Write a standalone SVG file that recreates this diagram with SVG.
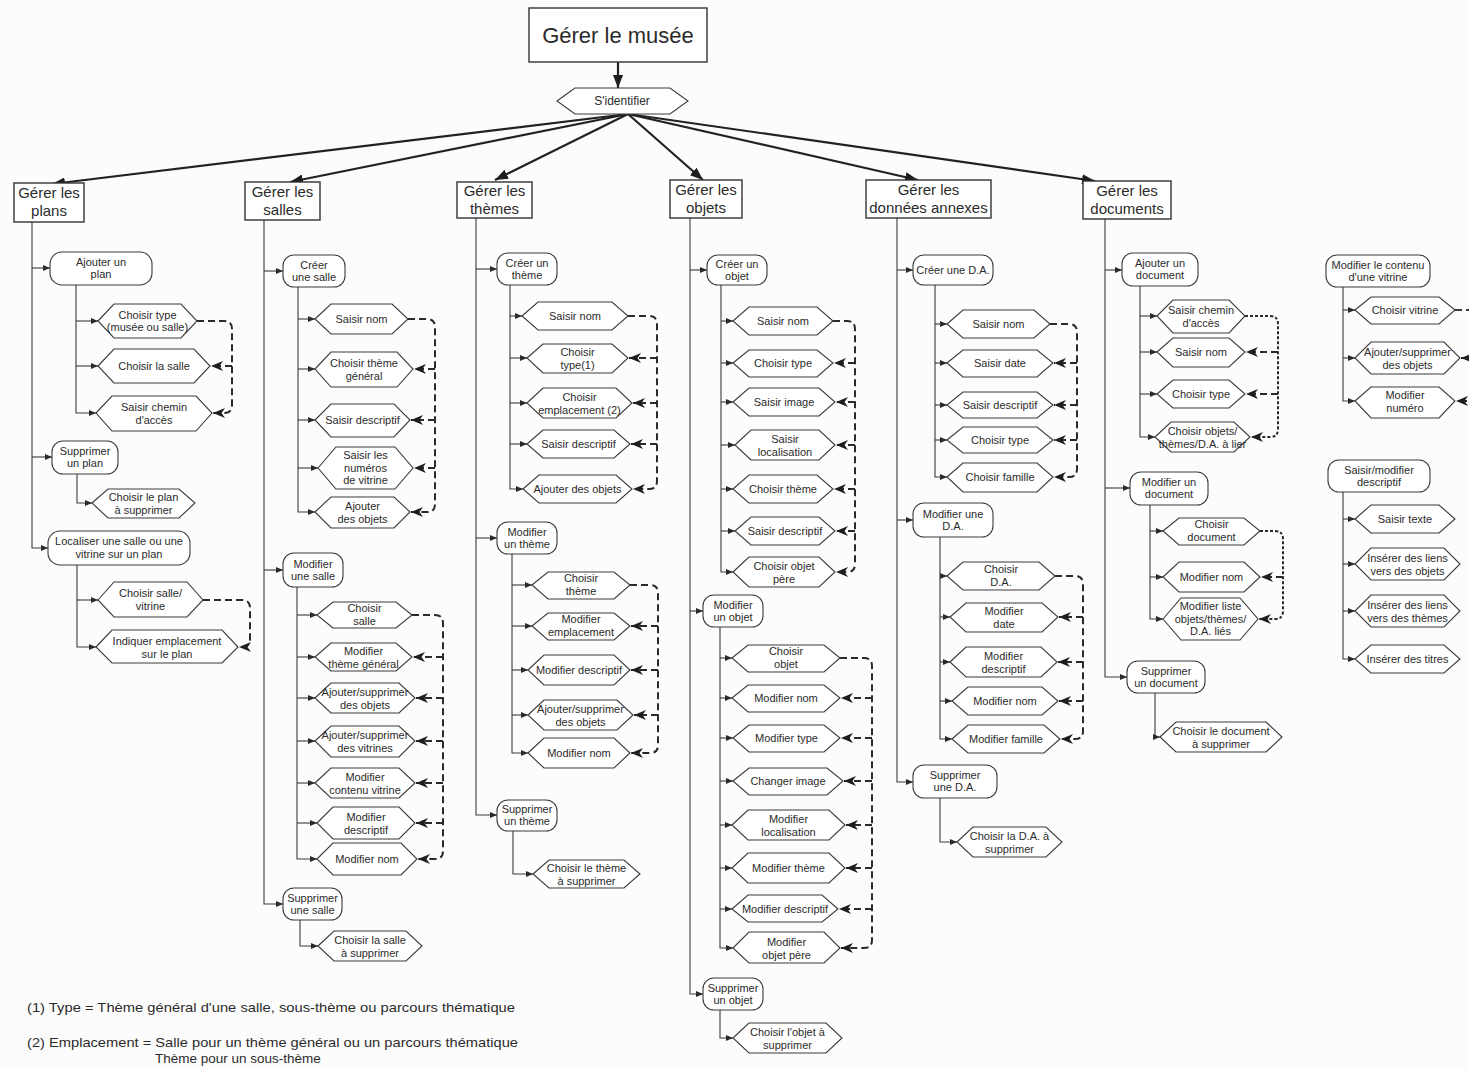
<svg xmlns="http://www.w3.org/2000/svg" width="1469" height="1070" viewBox="0 0 1469 1070">
<style>
  .bg{fill:#fcfcfc}
  .hdr{fill:#fff;stroke:#333;stroke-width:1.4}
  .step{fill:#fff;stroke:#3a3a3a;stroke-width:1.1}
  .act{fill:#fff;stroke:#3a3a3a;stroke-width:1.1}
  text{font-family:"Liberation Sans",Arial,sans-serif;fill:#2b2b2b;text-anchor:middle}
  .t{font-size:11px}
  .h{font-size:15px}
  .top{font-size:22px}
  .note{font-size:13.5px;text-anchor:start}
  .tree{fill:none;stroke:#3a3a3a;stroke-width:1.1;marker-end:url(#tip)}
  .line{fill:none;stroke:#3a3a3a;stroke-width:1.1}
  .fan{fill:none;stroke:#222;stroke-width:2.2;marker-end:url(#big)}
  .seq{fill:none;stroke:#2a2a2a;stroke-width:2;stroke-dasharray:7 4;marker-end:url(#seqtip)}
</style>
<defs>
  <marker id="tip" markerUnits="userSpaceOnUse" markerWidth="7" markerHeight="6" refX="7" refY="3" orient="auto">
    <path d="M0,0 L7,3 L0,6 z" fill="#2a2a2a"/>
  </marker>
  <marker id="big" markerUnits="userSpaceOnUse" markerWidth="13" markerHeight="10" refX="13" refY="5" orient="auto">
    <path d="M0,0 L13,5 L0,10 z" fill="#1e1e1e"/>
  </marker>
  <marker id="seqtip" markerUnits="userSpaceOnUse" markerWidth="12" markerHeight="10" refX="12" refY="5" orient="auto">
    <path d="M0,0 L12,5 L0,10 L3.5,5 z" fill="#1e1e1e"/>
  </marker>
</defs>
<rect class="bg" x="0" y="0" width="1469" height="1070"/>

<!-- all connectors -->
<g id="connectors">
  <path class="fan" d="M618,62 V88"/>
  <path class="fan" d="M628,114 L52,184"/>
  <path class="fan" d="M628,114 L290,182"/>
  <path class="fan" d="M628,114 L495,180"/>
  <path class="fan" d="M628,114 L703,180"/>
  <path class="fan" d="M628,114 L918,180"/>
  <path class="fan" d="M628,114 L1095,181"/>

  <!-- plans -->
  <path class="tree" d="M32,222 V548 H48"/>
  <path class="tree" d="M32,268 H50"/>
  <path class="tree" d="M32,457 H52"/>
  <path class="tree" d="M76,285 V413 H96"/>
  <path class="tree" d="M76,321 H98"/>
  <path class="tree" d="M76,366 H98"/>
  <path class="tree" d="M77,474 V503 H92"/>
  <path class="tree" d="M77,565 V647 H96"/>
  <path class="tree" d="M77,600 H98"/>
  <path class="seq" d="M197,321 H224 Q232,321 232,329 V405 Q232,413 224,413 H213"/>
  <path class="seq" d="M232,366 H211"/>
  <path class="seq" d="M203,600 H242 Q250,600 250,608 V639 Q250,647 242,647 H239"/>

  <!-- salles -->
  <path class="tree" d="M264,220 V904 H283"/>
  <path class="tree" d="M264,271 H283"/>
  <path class="tree" d="M264,570 H283"/>
  <path class="tree" d="M298,287 V512 H315"/>
  <path class="tree" d="M298,319 H315"/>
  <path class="tree" d="M298,369 H315"/>
  <path class="tree" d="M298,420 H315"/>
  <path class="tree" d="M298,468 H318"/>
  <path class="tree" d="M297,587 V859 H317"/>
  <path class="tree" d="M297,615 H317"/>
  <path class="tree" d="M297,657 H315"/>
  <path class="tree" d="M297,698 H315"/>
  <path class="tree" d="M297,741 H315"/>
  <path class="tree" d="M297,783 H315"/>
  <path class="tree" d="M297,823 H317"/>
  <path class="tree" d="M300,920 V946 H318"/>
  <path class="seq" d="M408,319 H427 Q435,319 435,327 V504 Q435,512 427,512 H411"/>
  <path class="seq" d="M435,369 H414"/>
  <path class="seq" d="M435,420 H411"/>
  <path class="seq" d="M435,468 H414"/>
  <path class="seq" d="M412,615 H435 Q443,615 443,623 V851 Q443,859 435,859 H418"/>
  <path class="seq" d="M443,657 H413"/>
  <path class="seq" d="M443,698 H416"/>
  <path class="seq" d="M443,741 H416"/>
  <path class="seq" d="M443,783 H416"/>
  <path class="seq" d="M443,823 H416"/>

  <!-- thèmes -->
  <path class="tree" d="M476,218 V815 H497"/>
  <path class="tree" d="M476,269 H497"/>
  <path class="tree" d="M476,538 H497"/>
  <path class="tree" d="M510,285 V489 H523"/>
  <path class="tree" d="M510,316 H522"/>
  <path class="tree" d="M510,358 H527"/>
  <path class="tree" d="M510,403 H527"/>
  <path class="tree" d="M510,444 H527"/>
  <path class="tree" d="M512,554 V753 H528"/>
  <path class="tree" d="M512,585 H532"/>
  <path class="tree" d="M512,626 H532"/>
  <path class="tree" d="M512,670 H528"/>
  <path class="tree" d="M512,715 H528"/>
  <path class="tree" d="M513,831 V874 H533"/>
  <path class="seq" d="M628,316 H649 Q657,316 657,324 V481 Q657,489 649,489 H633"/>
  <path class="seq" d="M657,358 H629"/>
  <path class="seq" d="M657,403 H633"/>
  <path class="seq" d="M657,444 H631"/>
  <path class="seq" d="M630,585 H650 Q658,585 658,593 V745 Q658,753 650,753 H631"/>
  <path class="seq" d="M658,626 H631"/>
  <path class="seq" d="M658,670 H631"/>
  <path class="seq" d="M658,715 H634"/>

  <!-- objets -->
  <path class="tree" d="M690,218 V994 H703"/>
  <path class="tree" d="M690,270 H707"/>
  <path class="tree" d="M690,611 H703"/>
  <path class="tree" d="M721,285 V572 H733"/>
  <path class="tree" d="M721,321 H733"/>
  <path class="tree" d="M721,363 H733"/>
  <path class="tree" d="M721,402 H733"/>
  <path class="tree" d="M721,445 H735"/>
  <path class="tree" d="M721,489 H733"/>
  <path class="tree" d="M721,531 H735"/>
  <path class="tree" d="M720,627 V948 H733"/>
  <path class="tree" d="M720,658 H732"/>
  <path class="tree" d="M720,698 H732"/>
  <path class="tree" d="M720,738 H733"/>
  <path class="tree" d="M720,781 H733"/>
  <path class="tree" d="M720,825 H732"/>
  <path class="tree" d="M720,868 H732"/>
  <path class="tree" d="M720,909 H732"/>
  <path class="tree" d="M720,1010 V1038 H733"/>
  <path class="seq" d="M833,321 H847 Q855,321 855,329 V564 Q855,572 847,572 H836"/>
  <path class="seq" d="M855,363 H834"/>
  <path class="seq" d="M855,402 H836"/>
  <path class="seq" d="M855,445 H836"/>
  <path class="seq" d="M855,489 H834"/>
  <path class="seq" d="M855,531 H836"/>
  <path class="seq" d="M840,658 H864 Q872,658 872,666 V940 Q872,948 864,948 H841"/>
  <path class="seq" d="M872,698 H841"/>
  <path class="seq" d="M872,738 H841"/>
  <path class="seq" d="M872,781 H844"/>
  <path class="seq" d="M872,825 H846"/>
  <path class="seq" d="M872,868 H846"/>
  <path class="seq" d="M872,909 H839"/>

  <!-- données annexes -->
  <path class="tree" d="M897,218 V782 H913"/>
  <path class="tree" d="M897,270 H913"/>
  <path class="tree" d="M897,520 H913"/>
  <path class="tree" d="M935,285 V477 H947"/>
  <path class="tree" d="M935,324 H947"/>
  <path class="tree" d="M935,363 H947"/>
  <path class="tree" d="M935,405 H947"/>
  <path class="tree" d="M935,440 H947"/>
  <path class="tree" d="M940,537 V739 H952"/>
  <path class="tree" d="M940,576 H947"/>
  <path class="tree" d="M940,617 H950"/>
  <path class="tree" d="M940,662 H950"/>
  <path class="tree" d="M940,701 H952"/>
  <path class="tree" d="M940,798 V842 H957"/>
  <path class="seq" d="M1050,324 H1069 Q1077,324 1077,332 V469 Q1077,477 1069,477 H1054"/>
  <path class="seq" d="M1077,363 H1054"/>
  <path class="seq" d="M1077,405 H1054"/>
  <path class="seq" d="M1077,440 H1054"/>
  <path class="seq" d="M1055,576 H1075 Q1083,576 1083,584 V731 Q1083,739 1075,739 H1061"/>
  <path class="seq" d="M1083,617 H1059"/>
  <path class="seq" d="M1083,662 H1058"/>
  <path class="seq" d="M1083,701 H1059"/>

  <!-- documents -->
  <path class="tree" d="M1105,219 V677 H1127"/>
  <path class="tree" d="M1105,270 H1122"/>
  <path class="tree" d="M1105,488 H1130"/>
  <path class="tree" d="M1140,286 V437 H1155"/>
  <path class="tree" d="M1140,316 H1157"/>
  <path class="tree" d="M1140,352 H1157"/>
  <path class="tree" d="M1140,394 H1157"/>
  <path class="tree" d="M1150,505 V619 H1163"/>
  <path class="tree" d="M1150,531 H1163"/>
  <path class="tree" d="M1150,577 H1163"/>
  <path class="tree" d="M1155,693 V737 H1160"/>
  <path class="seq" d="M1245,316 H1270 Q1278,316 1278,324 V429 Q1278,437 1270,437 H1251" style="stroke-dasharray:3 2"/>
  <path class="seq" d="M1278,352 H1246"/>
  <path class="seq" d="M1278,394 H1246"/>
  <path class="seq" d="M1260,531 H1275 Q1283,531 1283,539 V611 Q1283,619 1275,619 H1259" style="stroke-dasharray:3 2"/>
  <path class="seq" d="M1283,577 H1261"/>

  <!-- contenu d'une vitrine / descriptif -->
  <path class="tree" d="M1343,287 V401 H1355"/>
  <path class="tree" d="M1343,310 H1355"/>
  <path class="tree" d="M1343,358 H1355"/>
  <path class="tree" d="M1343,492 V659 H1355"/>
  <path class="tree" d="M1343,519 H1355"/>
  <path class="tree" d="M1343,564 H1355"/>
  <path class="tree" d="M1343,611 H1355"/>
  <path class="line" d="M1455,310 H1469" style="stroke-width:2;stroke-dasharray:7 4"/>
  <path class="seq" d="M1478,358 H1461"/>
  <path class="seq" d="M1478,401 H1456"/>
</g>

<!-- root -->
<g id="gerer-musee">
  <rect class="hdr" x="529" y="8" width="178" height="54"/>
  <text class="top" x="618" y="43">Gérer le musée</text>
</g>
<g id="s-identifier">
  <polygon class="step" points="557,101 575,88 670,88 688,101 670,114 575,114"/>
  <text class="t" x="622" y="105" style="font-size:12px">S'identifier</text>
</g>

<!-- Gérer les plans -->
<g id="gerer-plans">
  <rect class="hdr" x="14" y="183" width="70" height="39"/>
  <text class="h" x="49" y="198">Gérer les</text>
  <text class="h" x="49" y="216">plans</text>
</g>
<g id="ajouter-plan">
  <rect class="act" x="50" y="252" width="102" height="33" rx="12"/>
  <text class="t" x="101" y="266">Ajouter un</text>
  <text class="t" x="101" y="278">plan</text>
</g>
<g id="plan-choisir-type">
  <polygon class="step" points="98,321 114,304 181,304 197,321 181,338 114,338"/>
  <text class="t" x="147.5" y="319">Choisir type</text>
  <text class="t" x="147.5" y="331">(musée ou salle)</text>
</g>
<g id="plan-choisir-salle">
  <polygon class="step" points="98,366 114,349 194,349 210,366 194,383 114,383"/>
  <text class="t" x="154" y="370">Choisir la salle</text>
</g>
<g id="plan-saisir-chemin">
  <polygon class="step" points="96,413 112,396 196,396 212,413 196,431 112,431"/>
  <text class="t" x="154" y="411">Saisir chemin</text>
  <text class="t" x="154" y="424">d'accès</text>
</g>
<g id="supprimer-plan">
  <rect class="act" x="52" y="441" width="66" height="33" rx="11"/>
  <text class="t" x="85" y="455">Supprimer</text>
  <text class="t" x="85" y="467">un plan</text>
</g>
<g id="plan-choisir-supprimer">
  <polygon class="step" points="92,503 108,489 179,489 195,503 179,518 108,518"/>
  <text class="t" x="143.5" y="501">Choisir le plan</text>
  <text class="t" x="143.5" y="514">à supprimer</text>
</g>
<g id="localiser">
  <rect class="act" x="48" y="531" width="142" height="34" rx="12"/>
  <text class="t" x="119" y="545">Localiser une salle ou une</text>
  <text class="t" x="119" y="558">vitrine sur un plan</text>
</g>
<g id="plan-choisir-salle-vitrine">
  <polygon class="step" points="98,600 114,582 187,582 203,600 187,617 114,617"/>
  <text class="t" x="150.5" y="597">Choisir salle/</text>
  <text class="t" x="150.5" y="610">vitrine</text>
</g>
<g id="plan-indiquer">
  <polygon class="step" points="96,647 112,630 222,630 238,647 222,663 112,663"/>
  <text class="t" x="167" y="645">Indiquer emplacement</text>
  <text class="t" x="167" y="658">sur le plan</text>
</g>

<!-- Gérer les salles -->
<g id="gerer-salles">
  <rect class="hdr" x="245" y="182" width="75" height="38"/>
  <text class="h" x="282.5" y="197">Gérer les</text>
  <text class="h" x="282.5" y="215">salles</text>
</g>
<g id="creer-salle">
  <rect class="act" x="283" y="255" width="62" height="32" rx="11"/>
  <text class="t" x="314" y="269">Créer</text>
  <text class="t" x="314" y="281">une salle</text>
</g>
<g id="salle-saisir-nom">
  <polygon class="step" points="315,319 331,304 392,304 408,319 392,334 331,334"/>
  <text class="t" x="361.5" y="323">Saisir nom</text>
</g>
<g id="salle-choisir-theme">
  <polygon class="step" points="315,369 331,352 397,352 413,369 397,387 331,387"/>
  <text class="t" x="364" y="367">Choisir thème</text>
  <text class="t" x="364" y="380">général</text>
</g>
<g id="salle-saisir-descriptif">
  <polygon class="step" points="315,420 331,404 394,404 410,420 394,437 331,437"/>
  <text class="t" x="362.5" y="424">Saisir descriptif</text>
</g>
<g id="salle-saisir-numeros">
  <polygon class="step" points="318,468 336,447 395,447 413,468 395,489 336,489"/>
  <text class="t" x="365.5" y="459">Saisir les</text>
  <text class="t" x="365.5" y="471.5">numéros</text>
  <text class="t" x="365.5" y="484">de vitrine</text>
</g>
<g id="salle-ajouter-objets">
  <polygon class="step" points="315,512 331,497 394,497 410,512 394,528 331,528"/>
  <text class="t" x="362.5" y="510">Ajouter</text>
  <text class="t" x="362.5" y="523">des objets</text>
</g>
<g id="modifier-salle">
  <rect class="act" x="283" y="553" width="60" height="34" rx="11"/>
  <text class="t" x="313" y="568">Modifier</text>
  <text class="t" x="313" y="580">une salle</text>
</g>
<g id="salle-choisir">
  <polygon class="step" points="317,615 333,602 396,602 412,615 396,628 333,628"/>
  <text class="t" x="364.5" y="612">Choisir</text>
  <text class="t" x="364.5" y="625">salle</text>
</g>
<g id="salle-modifier-theme">
  <polygon class="step" points="315,657 331,643 396,643 412,657 396,671 331,671"/>
  <text class="t" x="363.5" y="655">Modifier</text>
  <text class="t" x="363.5" y="668">thème général</text>
</g>
<g id="salle-ajsup-objets">
  <polygon class="step" points="315,698 331,683 399,683 415,698 399,713 331,713"/>
  <text class="t" x="365" y="696">Ajouter/supprimer</text>
  <text class="t" x="365" y="709">des objets</text>
</g>
<g id="salle-ajsup-vitrines">
  <polygon class="step" points="315,741 331,726 399,726 415,741 399,757 331,757"/>
  <text class="t" x="365" y="739">Ajouter/supprimer</text>
  <text class="t" x="365" y="752">des vitrines</text>
</g>
<g id="salle-modifier-contenu">
  <polygon class="step" points="315,783 331,768 399,768 415,783 399,798 331,798"/>
  <text class="t" x="365" y="781">Modifier</text>
  <text class="t" x="365" y="794">contenu vitrine</text>
</g>
<g id="salle-modifier-descriptif">
  <polygon class="step" points="317,823 333,807 399,807 415,823 399,839 333,839"/>
  <text class="t" x="366" y="821">Modifier</text>
  <text class="t" x="366" y="834">descriptif</text>
</g>
<g id="salle-modifier-nom">
  <polygon class="step" points="317,859 333,843 401,843 417,859 401,875 333,875"/>
  <text class="t" x="367" y="863">Modifier nom</text>
</g>
<g id="supprimer-salle">
  <rect class="act" x="283" y="888" width="59" height="32" rx="11"/>
  <text class="t" x="312.5" y="902">Supprimer</text>
  <text class="t" x="312.5" y="914">une salle</text>
</g>
<g id="salle-choisir-supprimer">
  <polygon class="step" points="318,946 334,931 406,931 422,946 406,961 334,961"/>
  <text class="t" x="370" y="944">Choisir la salle</text>
  <text class="t" x="370" y="957">à supprimer</text>
</g>

<!-- Gérer les thèmes -->
<g id="gerer-themes">
  <rect class="hdr" x="457" y="182" width="75" height="36"/>
  <text class="h" x="494.5" y="196">Gérer les</text>
  <text class="h" x="494.5" y="214">thèmes</text>
</g>
<g id="creer-theme">
  <rect class="act" x="497" y="253" width="60" height="32" rx="11"/>
  <text class="t" x="527" y="267">Créer un</text>
  <text class="t" x="527" y="279">thème</text>
</g>
<g id="theme-saisir-nom">
  <polygon class="step" points="522,316 538,302 612,302 628,316 612,330 538,330"/>
  <text class="t" x="575" y="320">Saisir nom</text>
</g>
<g id="theme-choisir-type">
  <polygon class="step" points="527,358 543,344 612,344 628,358 612,373 543,373"/>
  <text class="t" x="577.5" y="356">Choisir</text>
  <text class="t" x="577.5" y="369">type(1)</text>
</g>
<g id="theme-choisir-emplacement">
  <polygon class="step" points="527,403 543,388 616,388 632,403 616,418 543,418"/>
  <text class="t" x="579.5" y="401">Choisir</text>
  <text class="t" x="579.5" y="414">emplacement (2)</text>
</g>
<g id="theme-saisir-descriptif">
  <polygon class="step" points="527,444 543,430 614,430 630,444 614,458 543,458"/>
  <text class="t" x="578.5" y="448">Saisir descriptif</text>
</g>
<g id="theme-ajouter-objets">
  <polygon class="step" points="523,489 539,475 616,475 632,489 616,503 539,503"/>
  <text class="t" x="577.5" y="493">Ajouter des objets</text>
</g>
<g id="modifier-theme">
  <rect class="act" x="497" y="522" width="60" height="32" rx="11"/>
  <text class="t" x="527" y="536">Modifier</text>
  <text class="t" x="527" y="548">un thème</text>
</g>
<g id="theme-choisir">
  <polygon class="step" points="532,585 548,572 614,572 630,585 614,599 548,599"/>
  <text class="t" x="581" y="582">Choisir</text>
  <text class="t" x="581" y="595">thème</text>
</g>
<g id="theme-modifier-emplacement">
  <polygon class="step" points="532,626 548,613 614,613 630,626 614,640 548,640"/>
  <text class="t" x="581" y="623">Modifier</text>
  <text class="t" x="581" y="636">emplacement</text>
</g>
<g id="theme-modifier-descriptif">
  <polygon class="step" points="528,670 544,655 614,655 630,670 614,685 544,685"/>
  <text class="t" x="579" y="674">Modifier descriptif</text>
</g>
<g id="theme-ajsup-objets">
  <polygon class="step" points="528,715 544,700 617,700 633,715 617,730 544,730"/>
  <text class="t" x="580.5" y="713">Ajouter/supprimer</text>
  <text class="t" x="580.5" y="726">des objets</text>
</g>
<g id="theme-modifier-nom">
  <polygon class="step" points="528,753 544,738 614,738 630,753 614,768 544,768"/>
  <text class="t" x="579" y="757">Modifier nom</text>
</g>
<g id="supprimer-theme">
  <rect class="act" x="497" y="800" width="60" height="31" rx="11"/>
  <text class="t" x="527" y="813">Supprimer</text>
  <text class="t" x="527" y="825">un thème</text>
</g>
<g id="theme-choisir-supprimer">
  <polygon class="step" points="533,874 549,860 624,860 640,874 624,888 549,888"/>
  <text class="t" x="586.5" y="872">Choisir le thème</text>
  <text class="t" x="586.5" y="885">à supprimer</text>
</g>

<!-- Gérer les objets -->
<g id="gerer-objets">
  <rect class="hdr" x="670" y="180" width="72" height="38"/>
  <text class="h" x="706" y="195">Gérer les</text>
  <text class="h" x="706" y="213">objets</text>
</g>
<g id="creer-objet">
  <rect class="act" x="707" y="255" width="60" height="30" rx="11"/>
  <text class="t" x="737" y="268">Créer un</text>
  <text class="t" x="737" y="280">objet</text>
</g>
<g id="objet-saisir-nom">
  <polygon class="step" points="733,321 749,307 817,307 833,321 817,335 749,335"/>
  <text class="t" x="783" y="325">Saisir nom</text>
</g>
<g id="objet-choisir-type">
  <polygon class="step" points="733,363 749,350 817,350 833,363 817,377 749,377"/>
  <text class="t" x="783" y="367">Choisir type</text>
</g>
<g id="objet-saisir-image">
  <polygon class="step" points="733,402 749,388 819,388 835,402 819,416 749,416"/>
  <text class="t" x="784" y="406">Saisir image</text>
</g>
<g id="objet-saisir-localisation">
  <polygon class="step" points="735,445 751,430 819,430 835,445 819,460 751,460"/>
  <text class="t" x="785" y="443">Saisir</text>
  <text class="t" x="785" y="456">localisation</text>
</g>
<g id="objet-choisir-theme">
  <polygon class="step" points="733,489 749,475 817,475 833,489 817,503 749,503"/>
  <text class="t" x="783" y="493">Choisir thème</text>
</g>
<g id="objet-saisir-descriptif">
  <polygon class="step" points="735,531 751,517 819,517 835,531 819,545 751,545"/>
  <text class="t" x="785" y="535">Saisir descriptif</text>
</g>
<g id="objet-choisir-pere">
  <polygon class="step" points="733,572 749,557 819,557 835,572 819,587 749,587"/>
  <text class="t" x="784" y="570">Choisir objet</text>
  <text class="t" x="784" y="583">père</text>
</g>
<g id="modifier-objet">
  <rect class="act" x="703" y="595" width="60" height="32" rx="11"/>
  <text class="t" x="733" y="609">Modifier</text>
  <text class="t" x="733" y="621">un objet</text>
</g>
<g id="objet-choisir">
  <polygon class="step" points="732,658 748,645 824,645 840,658 824,672 748,672"/>
  <text class="t" x="786" y="655">Choisir</text>
  <text class="t" x="786" y="668">objet</text>
</g>
<g id="objet-modifier-nom">
  <polygon class="step" points="732,698 748,685 824,685 840,698 824,712 748,712"/>
  <text class="t" x="786" y="702">Modifier nom</text>
</g>
<g id="objet-modifier-type">
  <polygon class="step" points="733,738 749,725 824,725 840,738 824,752 749,752"/>
  <text class="t" x="786.5" y="742">Modifier type</text>
</g>
<g id="objet-changer-image">
  <polygon class="step" points="733,781 749,768 827,768 843,781 827,795 749,795"/>
  <text class="t" x="788" y="785">Changer image</text>
</g>
<g id="objet-modifier-localisation">
  <polygon class="step" points="732,825 748,810 829,810 845,825 829,840 748,840"/>
  <text class="t" x="788.5" y="823">Modifier</text>
  <text class="t" x="788.5" y="836">localisation</text>
</g>
<g id="objet-modifier-theme">
  <polygon class="step" points="732,868 748,853 829,853 845,868 829,883 748,883"/>
  <text class="t" x="788.5" y="872">Modifier thème</text>
</g>
<g id="objet-modifier-descriptif">
  <polygon class="step" points="732,909 748,895 822,895 838,909 822,922 748,922"/>
  <text class="t" x="785" y="913">Modifier descriptif</text>
</g>
<g id="objet-modifier-pere">
  <polygon class="step" points="733,948 749,932 824,932 840,948 824,963 749,963"/>
  <text class="t" x="786.5" y="946">Modifier</text>
  <text class="t" x="786.5" y="959">objet père</text>
</g>
<g id="supprimer-objet">
  <rect class="act" x="703" y="978" width="60" height="32" rx="11"/>
  <text class="t" x="733" y="992">Supprimer</text>
  <text class="t" x="733" y="1004">un objet</text>
</g>
<g id="objet-choisir-supprimer">
  <polygon class="step" points="733,1038 749,1023 826,1023 842,1038 826,1053 749,1053"/>
  <text class="t" x="787.5" y="1036">Choisir l'objet à</text>
  <text class="t" x="787.5" y="1049">supprimer</text>
</g>

<!-- Gérer les données annexes -->
<g id="gerer-da">
  <rect class="hdr" x="866" y="180" width="125" height="38"/>
  <text class="h" x="928.5" y="195">Gérer les</text>
  <text class="h" x="928.5" y="213">données annexes</text>
</g>
<g id="creer-da">
  <rect class="act" x="913" y="255" width="80" height="30" rx="11"/>
  <text class="t" x="953" y="274">Créer une D.A.</text>
</g>
<g id="da-saisir-nom">
  <polygon class="step" points="947,324 963,310 1034,310 1050,324 1034,338 963,338"/>
  <text class="t" x="998.5" y="328">Saisir nom</text>
</g>
<g id="da-saisir-date">
  <polygon class="step" points="947,363 963,350 1037,350 1053,363 1037,377 963,377"/>
  <text class="t" x="1000" y="367">Saisir date</text>
</g>
<g id="da-saisir-descriptif">
  <polygon class="step" points="947,405 963,392 1037,392 1053,405 1037,418 963,418"/>
  <text class="t" x="1000" y="409">Saisir descriptif</text>
</g>
<g id="da-choisir-type">
  <polygon class="step" points="947,440 963,427 1037,427 1053,440 1037,453 963,453"/>
  <text class="t" x="1000" y="444">Choisir type</text>
</g>
<g id="da-choisir-famille">
  <polygon class="step" points="947,477 963,463 1037,463 1053,477 1037,492 963,492"/>
  <text class="t" x="1000" y="481">Choisir famille</text>
</g>
<g id="modifier-da">
  <rect class="act" x="913" y="503" width="80" height="34" rx="11"/>
  <text class="t" x="953" y="518">Modifier une</text>
  <text class="t" x="953" y="530">D.A.</text>
</g>
<g id="da-choisir">
  <polygon class="step" points="947,576 963,562 1039,562 1055,576 1039,590 963,590"/>
  <text class="t" x="1001" y="573">Choisir</text>
  <text class="t" x="1001" y="586">D.A.</text>
</g>
<g id="da-modifier-date">
  <polygon class="step" points="950,617 966,603 1042,603 1058,617 1042,632 966,632"/>
  <text class="t" x="1004" y="615">Modifier</text>
  <text class="t" x="1004" y="628">date</text>
</g>
<g id="da-modifier-descriptif">
  <polygon class="step" points="950,662 966,647 1041,647 1057,662 1041,677 966,677"/>
  <text class="t" x="1003.5" y="660">Modifier</text>
  <text class="t" x="1003.5" y="673">descriptif</text>
</g>
<g id="da-modifier-nom">
  <polygon class="step" points="952,701 968,687 1042,687 1058,701 1042,715 968,715"/>
  <text class="t" x="1005" y="705">Modifier nom</text>
</g>
<g id="da-modifier-famille">
  <polygon class="step" points="952,739 968,725 1044,725 1060,739 1044,753 968,753"/>
  <text class="t" x="1006" y="743">Modifier famille</text>
</g>
<g id="supprimer-da">
  <rect class="act" x="913" y="765" width="84" height="33" rx="11"/>
  <text class="t" x="955" y="779">Supprimer</text>
  <text class="t" x="955" y="791">une D.A.</text>
</g>
<g id="da-choisir-supprimer">
  <polygon class="step" points="957,842 973,827 1046,827 1062,842 1046,857 973,857"/>
  <text class="t" x="1009.5" y="840">Choisir la D.A. à</text>
  <text class="t" x="1009.5" y="853">supprimer</text>
</g>

<!-- Gérer les documents -->
<g id="gerer-documents">
  <rect class="hdr" x="1083" y="181" width="88" height="38"/>
  <text class="h" x="1127" y="196">Gérer les</text>
  <text class="h" x="1127" y="214">documents</text>
</g>
<g id="ajouter-document">
  <rect class="act" x="1122" y="253" width="76" height="33" rx="11"/>
  <text class="t" x="1160" y="267">Ajouter un</text>
  <text class="t" x="1160" y="279">document</text>
</g>
<g id="doc-saisir-chemin">
  <polygon class="step" points="1157,316 1173,300 1229,300 1245,316 1229,333 1173,333"/>
  <text class="t" x="1201" y="314">Saisir chemin</text>
  <text class="t" x="1201" y="327">d'accès</text>
</g>
<g id="doc-saisir-nom">
  <polygon class="step" points="1157,352 1173,338 1229,338 1245,352 1229,367 1173,367"/>
  <text class="t" x="1201" y="356">Saisir nom</text>
</g>
<g id="doc-choisir-type">
  <polygon class="step" points="1157,394 1173,380 1229,380 1245,394 1229,408 1173,408"/>
  <text class="t" x="1201" y="398">Choisir type</text>
</g>
<g id="doc-choisir-liens">
  <polygon class="step" points="1155,437 1171,422 1234,422 1250,437 1234,452 1171,452"/>
  <text class="t" x="1202.5" y="435">Choisir objets/</text>
  <text class="t" x="1202.5" y="448">thèmes/D.A. à lier</text>
</g>
<g id="modifier-document">
  <rect class="act" x="1130" y="472" width="78" height="33" rx="11"/>
  <text class="t" x="1169" y="486">Modifier un</text>
  <text class="t" x="1169" y="498">document</text>
</g>
<g id="doc-choisir">
  <polygon class="step" points="1163,531 1179,518 1244,518 1260,531 1244,545 1179,545"/>
  <text class="t" x="1211.5" y="528">Choisir</text>
  <text class="t" x="1211.5" y="541">document</text>
</g>
<g id="doc-modifier-nom">
  <polygon class="step" points="1163,577 1179,562 1244,562 1260,577 1244,592 1179,592"/>
  <text class="t" x="1211.5" y="581">Modifier nom</text>
</g>
<g id="doc-modifier-liste">
  <polygon class="step" points="1163,619 1181,598 1240,598 1258,619 1240,640 1181,640"/>
  <text class="t" x="1210.5" y="610">Modifier liste</text>
  <text class="t" x="1210.5" y="622.5">objets/thèmes/</text>
  <text class="t" x="1210.5" y="635">D.A.  liés</text>
</g>
<g id="supprimer-document">
  <rect class="act" x="1127" y="661" width="78" height="32" rx="11"/>
  <text class="t" x="1166" y="675">Supprimer</text>
  <text class="t" x="1166" y="687">un document</text>
</g>
<g id="doc-choisir-supprimer">
  <polygon class="step" points="1160,737 1176,722 1266,722 1282,737 1266,752 1176,752"/>
  <text class="t" x="1221" y="735">Choisir le document</text>
  <text class="t" x="1221" y="748">à supprimer</text>
</g>

<!-- Modifier le contenu d'une vitrine -->
<g id="modifier-contenu-vitrine">
  <rect class="act" x="1326" y="255" width="104" height="32" rx="11"/>
  <text class="t" x="1378" y="269">Modifier le contenu</text>
  <text class="t" x="1378" y="281">d'une vitrine</text>
</g>
<g id="vitrine-choisir">
  <polygon class="step" points="1355,310 1371,297 1439,297 1455,310 1439,324 1371,324"/>
  <text class="t" x="1405" y="314">Choisir vitrine</text>
</g>
<g id="vitrine-ajsup-objets">
  <polygon class="step" points="1355,358 1371,342 1444,342 1460,358 1444,374 1371,374"/>
  <text class="t" x="1407.5" y="356">Ajouter/supprimer</text>
  <text class="t" x="1407.5" y="369">des objets</text>
</g>
<g id="vitrine-modifier-numero">
  <polygon class="step" points="1355,401 1371,387 1439,387 1455,401 1439,418 1371,418"/>
  <text class="t" x="1405" y="399">Modifier</text>
  <text class="t" x="1405" y="412">numéro</text>
</g>

<!-- Saisir/modifier descriptif -->
<g id="saisir-modifier-descriptif">
  <rect class="act" x="1328" y="460" width="102" height="32" rx="11"/>
  <text class="t" x="1379" y="474">Saisir/modifier</text>
  <text class="t" x="1379" y="486">descriptif</text>
</g>
<g id="desc-saisir-texte">
  <polygon class="step" points="1355,519 1371,505 1439,505 1455,519 1439,533 1371,533"/>
  <text class="t" x="1405" y="523">Saisir texte</text>
</g>
<g id="desc-liens-objets">
  <polygon class="step" points="1355,564 1371,548 1444,548 1460,564 1444,580 1371,580"/>
  <text class="t" x="1407.5" y="562">Insérer des liens</text>
  <text class="t" x="1407.5" y="575">vers des objets</text>
</g>
<g id="desc-liens-themes">
  <polygon class="step" points="1355,611 1371,595 1444,595 1460,611 1444,627 1371,627"/>
  <text class="t" x="1407.5" y="609">Insérer des liens</text>
  <text class="t" x="1407.5" y="622">vers des thèmes</text>
</g>
<g id="desc-titres">
  <polygon class="step" points="1355,659 1371,645 1444,645 1460,659 1444,673 1371,673"/>
  <text class="t" x="1407.5" y="663">Insérer des titres</text>
</g>

<!-- notes -->
<g id="notes">
  <text class="note" x="27" y="1012" textLength="488" lengthAdjust="spacingAndGlyphs">(1) Type = Thème général d'une salle, sous-thème ou parcours thématique</text>
  <text class="note" x="27" y="1047" textLength="491" lengthAdjust="spacingAndGlyphs">(2) Emplacement = Salle pour un thème général ou un parcours thématique</text>
  <text class="note" x="155" y="1063">Thème pour un sous-thème</text>
</g>
</svg>
